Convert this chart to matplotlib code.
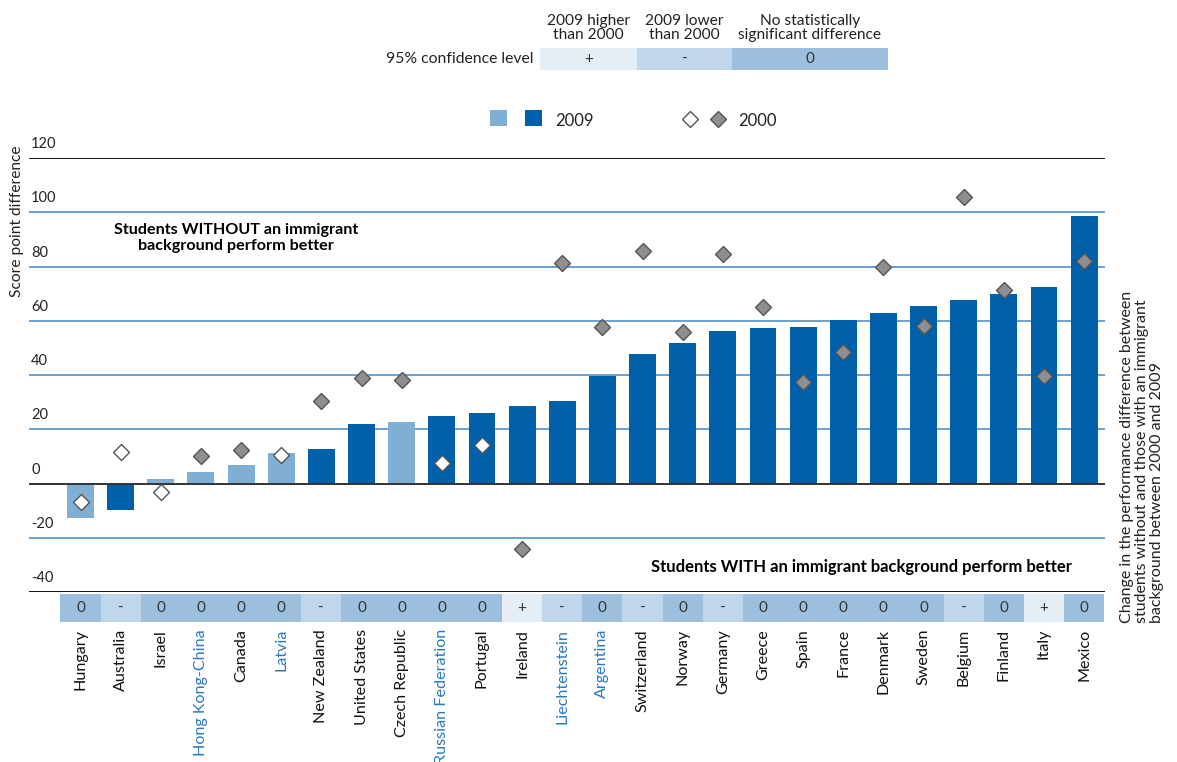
import matplotlib
matplotlib.use("Agg")
import matplotlib.pyplot as plt
from matplotlib.patches import Rectangle
from matplotlib.lines import Line2D

FONT = ['Lato', 'DejaVu Sans']
BOLD = ['Lato', 'DejaVu Sans']
plt.rcParams['font.family'] = FONT

countries = ["Hungary", "Australia", "Israel", "Hong Kong-China", "Canada", "Latvia",
             "New Zealand", "United States", "Czech Republic", "Russian Federation",
             "Portugal", "Ireland", "Liechtenstein", "Argentina", "Switzerland", "Norway",
             "Germany", "Greece", "Spain", "France", "Denmark", "Sweden", "Belgium",
             "Finland", "Italy", "Mexico"]
partners = ["Hong Kong-China", "Latvia", "Russian Federation", "Liechtenstein", "Argentina"]
diff_2009 = [-12.6, -9.9, 1.7, 4.3, 6.7, 11.4, 12.8, 21.9, 22.5, 24.8, 26.1, 28.7, 30.5,
             39.7, 47.8, 51.9, 56.2, 57.3, 57.7, 60.3, 63.0, 65.6, 67.5, 69.7, 72.3, 98.6]
sig_2009 = [False, True, False, False, False, False, True, True, False, True, True, True,
            True, True, True, True, True, True, True, True, True, True, True, True, True, True]
diff_2000 = [-7.0, 11.7, -3.1, 10.0, 12.5, 10.5, 30.5, 39.0, 38.3, 7.4, 14.1, -24.2, 81.2,
             57.7, 85.6, 56.0, 84.6, 65.1, 37.3, 48.6, 80.0, 58.2, 105.5, 71.5, 39.8, 81.9]
sig_2000 = [False, False, False, True, True, False, True, True, True, False, False, True,
            True, True, True, True, True, True, True, True, True, True, True, True, True, True]
change = ['0', '-', '0', '0', '0', '0', '-', '0', '0', '0', '0', '+', '-', '0', '-', '0',
          '-', '0', '0', '0', '0', '0', '-', '0', '+', '0']
yticks = [120, 100, 80, 60, 40, 20, 0, -20, -40]

DARK = '#0061AA'
LIGHT = '#7FAFD5'
GRID = '#5F98CB'
GREY = '#8E8E90'
CELL = {'+': '#E5EDF5', '-': '#C0D6EA', '0': '#9BBFDD'}
PARTNER = '#2A78C0'

W, H = 1177, 762
fig = plt.figure(figsize=(W / 100, H / 100), dpi=100)

def fx(px):
    return px / W

def fy(py):
    return 1 - py / H

n = len(countries)
x = list(range(n))
xl = (-1.283, 25.52)

ax = fig.add_axes([fx(29), fy(592), fx(1105) - fx(29), fy(158) - fy(592)])
ax.set_xlim(*xl)
ax.set_ylim(-40, 120)
ax.axis('off')
for t in yticks:
    col = '#111111' if t in (120, -40) else ('#333333' if t == 0 else GRID)
    lw = 1.4 if t in (120, -40, 0) else 1.3
    ax.axhline(t, color=col, lw=lw, zorder=1 if t != 0 else 4)
    ax.annotate(str(t), xy=(0.002, t), xycoords=('axes fraction', 'data'),
                xytext=(0, 5), textcoords='offset points', ha='left', va='bottom',
                fontsize=10.5, color='#222222')

ax.bar(x, diff_2009, width=0.67, color=[DARK if s else LIGHT for s in sig_2009],
       zorder=3, linewidth=0)
for xi, v, s in zip(x, diff_2000, sig_2000):
    ax.plot(xi, v, marker='D', markersize=8.5, markerfacecolor=GREY if s else 'white',
            markeredgecolor='#555555', markeredgewidth=1.0, zorder=5, linestyle='none')

fig.text(fx(236), fy(238), "Students WITHOUT an immigrant\nbackground perform better",
         fontsize=11.6, fontweight='bold', family=BOLD, ha='center', va='center',
         linespacing=1.15)
fig.text(fx(1072), fy(567), "Students WITH an immigrant background perform better",
         fontsize=12, fontweight='bold', family=BOLD, ha='right', va='center')

fig.text(fx(17), fy(221), "Score point difference", rotation=90, ha='center',
         va='center', fontsize=11.2, color='#222222')

# table row of change significance
tax = fig.add_axes([fx(29), fy(622), fx(1105) - fx(29), fy(594) - fy(622)])
tax.set_xlim(*xl)
tax.set_ylim(0, 1)
tax.axis('off')
tax.bar(x, [1] * n, width=1.0, bottom=0, color=[CELL[c] for c in change], linewidth=0)
for xi, c in zip(x, change):
    tax.text(xi, 0.5, c, ha='center', va='center', fontsize=11, color='#333333')
for xi, name in zip(x, countries):
    tax.annotate(name, xy=(xi, 0), xycoords='data', xytext=(0, -5),
                 textcoords='offset points', rotation=90, ha='center', va='top',
                 fontsize=11.6, color=PARTNER if name in partners else '#111111')

fig.text(fx(1142), fy(623),
         "Change in the performance difference between\nstudents without and those with an immigrant\nbackground between 2000 and 2009",
         rotation=90, ha='center', va='bottom', multialignment='left', fontsize=11.5,
         color='#222222', linespacing=1.05)

# top legend (overlay in pixel coordinates)
lax = fig.add_axes([0, 0, 1, 1])
lax.set_xlim(0, W)
lax.set_ylim(H, 0)
lax.axis('off')
legend_cells = [('+', 540, 637), ('-', 637, 732), ('0', 732, 888)]
headers = ["2009 higher\nthan 2000", "2009 lower\nthan 2000", "No statistically\nsignificant difference"]
for (sym, x0, x1), hdr in zip(legend_cells, headers):
    lax.add_patch(Rectangle((x0, 48), x1 - x0, 22, facecolor=CELL[sym], edgecolor='none'))
    lax.text((x0 + x1) / 2, 59, sym, ha='center', va='center', fontsize=11, color='#333333')
    lax.text((x0 + x1) / 2, 28, hdr, ha='center', va='center', fontsize=11.2,
             color='#222222', linespacing=0.95)
lax.text(533, 59, "95% confidence level", ha='right', va='center', fontsize=11.3,
         color='#222222')
lax.add_patch(Rectangle((490, 110), 17, 16, facecolor=LIGHT, edgecolor='none'))
lax.add_patch(Rectangle((525, 110), 17, 16, facecolor=DARK, edgecolor='none'))
lax.text(555, 121, "2009", ha='left', va='center', fontsize=12, color='#222222')
lax.add_line(Line2D([690], [119], marker='D', markersize=8.5, markerfacecolor='white',
                    markeredgecolor='#555555', markeredgewidth=1.0, linestyle='none'))
lax.add_line(Line2D([718], [119], marker='D', markersize=8.5, markerfacecolor=GREY,
                    markeredgecolor='#555555', markeredgewidth=1.0, linestyle='none'))
lax.text(738, 121, "2000", ha='left', va='center', fontsize=12, color='#222222')

fig.savefig("out.png", dpi=100)
